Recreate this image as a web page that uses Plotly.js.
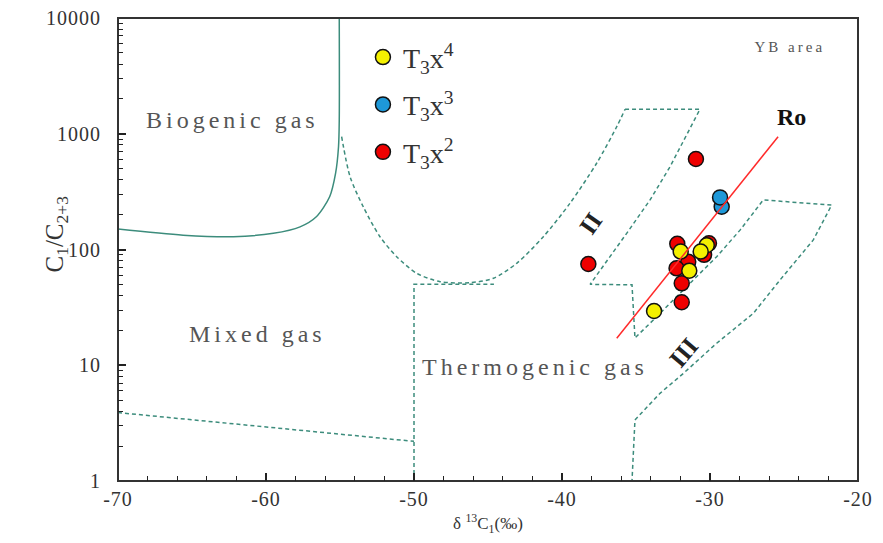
<!DOCTYPE html>
<html>
<head>
<meta charset="utf-8">
<script src="https://cdn.plot.ly/plotly-3.0.1.min.js"></script>
<style>html,body{margin:0;padding:0;background:#fff;}#chart{width:883px;height:543px;}</style>
</head>
<body>
<div id="chart"></div>
<script>
// ---- tick labels ----
const xTickVals = [-70, -60, -50, -40, -30, -20];
const xTickText = ['-70', '-60', '-50', '-40', '-30', '-20'];
const yTickVals = [1, 10, 100, 1000, 10000];
const yTickText = ['1', '10', '100', '1000', '10000'];

// ---- series (δ13C1 ‰, C1/C2+3) ----
const t3x4_x = [-31.98, -30.22, -30.63, -31.40, -33.78];
const t3x4_y = [96, 109, 96, 65.6, 29.4];
const t3x3_x = [-29.21, -29.32];
const t3x3_y = [234, 282];
const t3x2_x = [-30.95, -38.22, -32.21, -30.07, -30.40, -31.47, -32.26, -31.91, -31.91];
const t3x2_y = [605, 75, 112, 113, 90, 78.5, 68.8, 51, 35];

// ---- Ro trend line ----
const ro_x = [-36.3, -25.4];
const ro_y = [17.1, 943];

// ---- classification boundaries ----
const bio_x = [-70, -65.6, -62.2, -59.5, -57.7, -56.6, -55.7, -55.3, -55.1, -55.05, -55.05];
const bio_y = [150, 133, 129, 138, 157, 192, 286, 455, 773, 1315, 10000];

const curve_x = [-54.89, -54.32, -53.43, -52.30, -51.17, -49.82, -48.24, -46.22, -44.64, -43.06, -41.26, -39.46, -37.66, -36.30, -35.74];
const curve_y = [943, 426, 234, 129, 86.7, 62.3, 52.7, 51.7, 56.4, 76, 129, 251, 556, 1151, 1626];

const band_x = [-35.74, -30.68, -32.70, -34.05, -35.63, -37.43, -38.10, -35.27, -35.07, -33.83, -31.80, -29.55, -27.97, -26.40, -21.78, -23.02, -25.27, -27.07, -29.55, -31.80, -33.38, -35.07, -35.27];
const band_y = [1626, 1626, 519, 268, 138, 66.5, 50, 49.5, 17.2, 24.6, 44.7, 86.7, 147, 268, 242, 121, 54.5, 28.1, 15.5, 8.5, 5.72, 3.37, 1];

const thermo_x = [-50, -50, -44.6];
const thermo_y = [1, 50, 50];

const mixed_x = [-70, -50];
const mixed_y = [3.9, 2.2];

// ---- labels ----
const labelText = ['Biogenic gas', 'Mixed gas', 'Thermogenic gas', 'II', 'III', 'Ro', 'YB area'];
const labelX = [-62.26, -60.6, -41.82, -38.07, -31.78, -24.48, -24.59];
const labelY = [1315, 18.6, 9.66, 168, 12.9, 1387, 5585];

const teal = '#3c8c7c';
const dashStyle = {color: teal, width: 1.5, dash: '4px,3px'};
const serif = 'Liberation Serif, Times New Roman, serif';

function boundary(x, y, line, shape) {
  return {x: x, y: y, type: 'scatter', mode: 'lines', line: Object.assign({}, line, shape ? {shape: shape, smoothing: 0.8} : {}),
          showlegend: false, hoverinfo: 'skip'};
}

const mk = (c) => ({size: 15, color: c, line: {color: '#111', width: 1.5}});

const data = [
  boundary(bio_x, bio_y, {color: teal, width: 1.5}, 'spline'),
  boundary(curve_x, curve_y, dashStyle, 'spline'),
  boundary(band_x, band_y, dashStyle),
  boundary(thermo_x, thermo_y, dashStyle),
  boundary(mixed_x, mixed_y, dashStyle),
  {x: t3x2_x, y: t3x2_y, type: 'scatter', mode: 'markers', name: 'T<sub>3</sub>x<sup>2</sup>', marker: mk('#ee0000'), legendgroup: 'c', legendrank: 3},
  {x: t3x3_x, y: t3x3_y, type: 'scatter', mode: 'markers', name: 'T<sub>3</sub>x<sup>3</sup>', marker: mk('#1e98d8'), legendgroup: 'b', legendrank: 2},
  {x: t3x4_x, y: t3x4_y, type: 'scatter', mode: 'markers', name: 'T<sub>3</sub>x<sup>4</sup>', marker: mk('#f4f000'), legendgroup: 'a', legendrank: 1},
  {x: ro_x, y: ro_y, type: 'scatter', mode: 'lines', line: {color: '#ff2a2a', width: 1.5}, showlegend: false, hoverinfo: 'skip'}
];

const labelStyles = [
  {size: 24, color: '#555', weight: 'normal', angle: 0},
  {size: 24, color: '#555', weight: 'normal', angle: 0},
  {size: 24, color: '#555', weight: 'normal', angle: 0},
  {size: 25, color: '#222', weight: 'bold', angle: -55},
  {size: 25, color: '#222', weight: 'bold', angle: -50},
  {size: 24, color: '#111', weight: 'bold', angle: 0},
  {size: 15, color: '#555', weight: 'normal', angle: 0}
];
const spacing = ['4px', '4px', '4px', '0px', '0px', '0px', '3px', '0px'];

const annotations = labelText.map((t, i) => ({
  x: labelX[i], y: Math.log10(labelY[i]), xref: 'x', yref: 'y', text: t, showarrow: false,
  textangle: labelStyles[i].angle,
  font: {family: serif, size: labelStyles[i].size, color: labelStyles[i].color, weight: labelStyles[i].weight}
}));
annotations.push({
  xref: 'paper', yref: 'paper', x: -0.107, y: 0.533, text: 'C<sub>1</sub>/C<sub>2+3</sub>', showarrow: false,
  textangle: -90, font: {family: serif, size: 25, color: '#333'}
});

const layout = {
  width: 883, height: 543,
  margin: {l: 118, r: 25, t: 18, b: 62},
  paper_bgcolor: '#fff', plot_bgcolor: 'rgba(0,0,0,0)',
  showlegend: true,
  legend: {x: 0.331, y: 0.969, xanchor: 'left', yanchor: 'top', bgcolor: 'rgba(0,0,0,0)',
           font: {family: serif, size: 28, color: '#333'}, traceorder: 'grouped', tracegroupgap: 8},
  xaxis: {
    range: [-70, -20], tickmode: 'array', tickvals: xTickVals, ticktext: xTickText,
    ticks: 'inside', ticklen: 8, tickwidth: 2, tickcolor: '#222',
    minor: {ticks: 'inside', ticklen: 5, tickmode: 'linear', tick0: -70, dtick: 2, tickcolor: '#222', tickwidth: 1},
    showgrid: false, zeroline: false,
    showline: true, linecolor: '#222', linewidth: 1, mirror: true,
    tickfont: {family: serif, size: 20, color: '#333'},
    title: {text: 'δ <sup>13</sup>C<sub>1</sub>(‰)', font: {family: serif, size: 17, color: '#333'}, standoff: 8}
  },
  yaxis: {
    type: 'log', range: [0, 4], tickmode: 'array', tickvals: yTickVals, ticktext: yTickText,
    ticks: 'inside', ticklen: 8, tickwidth: 2, tickcolor: '#222',
    minor: {ticks: 'inside', ticklen: 5, dtick: 'D1', tickcolor: '#222', tickwidth: 1},
    showgrid: false, zeroline: false,
    showline: true, linecolor: '#222', linewidth: 1, mirror: true,
    tickfont: {family: serif, size: 20, color: '#333'}, ticklabelstandoff: 12
  },
  shapes: [
    {type: 'rect', xref: 'paper', yref: 'paper', x0: 0, x1: 1, y0: 0, y1: 1, line: {color: '#333', width: 2}, fillcolor: 'rgba(0,0,0,0)', layer: 'above'}
  ],
  annotations: annotations
};

Plotly.newPlot('chart', data, layout, {displayModeBar: false, staticPlot: true}).then(function (gd) {
  gd.querySelectorAll('.annotation-text').forEach(function (t, i) {
    if (spacing[i]) t.style.letterSpacing = spacing[i];
  });
  gd.querySelectorAll('.xtick text, .ytick text').forEach(function (t) { t.style.letterSpacing = '1px'; });
  // bring the axis tick marks Plotly drew to the top layer so nothing hides them
  const svgs = gd.querySelectorAll('svg.main-svg');
  const top = svgs[svgs.length - 1];
  const g = document.createElementNS('http://www.w3.org/2000/svg', 'g');
  gd.querySelectorAll('path').forEach(function (p) {
    const c = p.getAttribute('class') || '';
    if (/\bticks\b/.test(c)) {
      const q = p.cloneNode(false);
      q.removeAttribute('clip-path');
      q.setAttribute('fill', 'none');
      q.style.opacity = '1';
      g.appendChild(q);
    }
  });
  top.appendChild(g);
});
</script>
</body>
</html>
